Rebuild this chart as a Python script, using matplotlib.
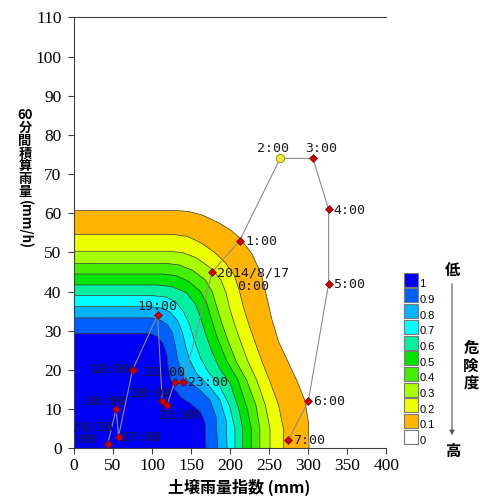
import matplotlib.pyplot as plt
from matplotlib.patches import Rectangle, FancyArrowPatch

plt.rcParams['font.family'] = ['DejaVu Sans', 'Noto Sans CJK JP']

W, H = 481, 496

# 経過: 時刻, 土壌雨量指数 (mm), 60分間積算雨量 (mm/h)
times = ["2014/8/16\n15:00", "16:00", "17:00", "18:00", "19:00", "20:00",
         "21:00", "22:00", "23:00", "2014/8/17\n0:00", "1:00", "2:00",
         "3:00", "4:00", "5:00", "6:00", "7:00"]
soil = [43, 54, 57, 75, 107, 113, 119, 129, 140, 177, 212, 264,
        306, 326, 326, 300, 274]
rain = [1, 10, 3, 20, 34, 12, 11, 17, 17, 45, 53, 74,
        74, 61, 42, 12, 2]
latest = 11  # 2:00 (黄色の丸)

# 危険度の等値線 (y 軸上端 -> x 軸)
cl_01 = [(0, 60.7), (132, 60.7), (148, 60.4), (165, 59.5), (185, 57.6), (200, 55.8),
         (213, 53.6), (228, 49.6), (240, 44.3), (247, 38.5), (253, 33.2), (262, 27.2),
         (274, 22.1), (286, 17.0), (296, 12.0), (300, 6.8), (301, 0)]
cl_02 = [(0, 54.6), (126, 54.6), (145, 54.1), (163, 52.4), (180, 50.0), (194, 47.3),
         (205, 44.3), (212, 40.0), (217, 36.0), (224, 31.5), (232, 27.0), (241, 22.0),
         (251, 17.0), (262, 11.0), (268, 5.0), (268, 0)]
cl_03 = [(0, 50.3), (122, 50.3), (140, 49.9), (157, 48.6), (175, 46.0), (188, 43.0),
         (195, 39.5), (199, 36.0), (205, 32.0), (212, 28.0), (222, 22.5), (234, 17.4),
         (245, 11.0), (251, 5.0), (251, 0)]
cl_04 = [(0, 47.2), (118, 47.2), (135, 46.8), (152, 45.4), (168, 43.0), (177, 40.0),
         (183, 36.0), (190, 31.5), (198, 27.0), (208, 22.0), (221, 17.4), (233, 11.0),
         (238, 5.0), (238, 0)]
cl_05 = [(0, 44.5), (112, 44.5), (130, 44.1), (147, 42.6), (162, 40.0), (170, 37.0),
         (176, 33.0), (183, 28.5), (195, 22.5), (210, 17.4), (222, 10.0), (227, 5.0),
         (227, 0)]
cl_06 = [(0, 41.7), (106, 41.7), (125, 41.3), (144, 39.7), (155, 37.0), (162, 33.5),
         (168, 29.5), (176, 25.0), (186, 20.5), (200, 16.5), (211, 10.0), (216, 5.0),
         (216, 0)]
cl_07 = [(0, 39.0), (100, 39.0), (118, 38.6), (130, 37.4), (140, 35.0), (148, 31.5),
         (155, 27.0), (162, 23.0), (172, 19.5), (186, 16.0), (199, 11.0), (206, 5.0),
         (206, 0)]
cl_08 = [(0, 36.2), (96, 36.2), (112, 35.8), (123, 34.8), (133, 32.5), (139, 29.5),
         (143, 26.0), (148, 22.6), (157, 19.1), (174, 15.7), (187, 12.3), (195, 7.0),
         (196, 0)]
cl_09 = [(0, 33.3), (100, 33.3), (112, 32.6), (120, 31.5), (126, 29.5), (130, 26.0),
         (133, 22.5), (137, 20.0), (145, 17.4), (161, 14.9), (174, 12.3), (182, 8.0),
         (184, 0)]
cl_10 = [(0, 29.3), (98, 29.3), (107, 28.5), (114, 26.8), (119, 24.0), (121, 20.5),
         (124, 17.5), (129, 15.0), (137, 13.0), (149, 11.5), (162, 9.3), (168, 6.5),
         (169, 0)]
contours = [cl_01, cl_02, cl_03, cl_04, cl_05, cl_06, cl_07, cl_08, cl_09, cl_10]

# 凡例 (危険度)
levels = ["1", "0.9", "0.8", "0.7", "0.6", "0.5", "0.4", "0.3", "0.2", "0.1", "0"]
colors = ["#0000F5", "#0060FF", "#00B4FF", "#00FFFF", "#00F0A0", "#00E400",
          "#44EE00", "#A8FF00", "#EEFF00", "#FFB400", "#FFFFFF"]

# ラベル位置 (データ座標)
lab_pos = [(3.5, 3.9), (39.7, 11.9), (60.2, 2.8), (71.7, 20.0), (106.3, 36.2),
           (98.6, 14.0), (134, 8.5), (116.5, 19.3), (146.4, 16.7), (182.7, 43.0),
           (219, 52.9), (254.8, 76.6), (316, 76.6), (331.6, 60.8), (331.6, 41.9),
           (306.4, 11.9), (280.8, 1.9)]
lab_ha = ["center", "center", "left", "right", "center", "center", "center",
          "center", "left", "left", "left", "center", "center", "left", "left",
          "left", "left"]

fig = plt.figure(figsize=(W / 100, H / 100), dpi=100)
ax = fig.add_axes([74 / W, 1 - 448.3 / H, 312.4 / W, 430.9 / H])

# 等値線の塗りつぶし (外側から)
band_colors = colors[:10][::-1]
for pts, col in zip(contours, band_colors):
    xs = [p[0] for p in pts]
    ys = [p[1] for p in pts]
    ax.fill(xs + [0], ys + [0], color=col, lw=0, zorder=1)
    ax.plot(xs, ys, color='#3a3a3a', lw=0.5, zorder=2, solid_joinstyle='round')

# 経過
ax.plot(soil, rain, color='#8c8c8c', lw=0.8, zorder=3)
others = [i for i in range(len(soil)) if i != latest]
ax.scatter([soil[i] for i in others], [rain[i] for i in others], marker='D', s=16,
           c='#D00000', edgecolors='#7a0000', linewidths=0.5, zorder=4)
ax.scatter([soil[latest]], [rain[latest]], marker='o', s=36, c='#F2E640',
           edgecolors='#8a8a00', linewidths=0.6, zorder=4)

for t, (lx, ly), ha in zip(times, lab_pos, lab_ha):
    ax.text(lx, ly, t, ha=ha, va='center', multialignment='center',
            family='DejaVu Sans Mono', fontsize=9.5, linespacing=1.0,
            color='#1a1a1a', zorder=5, clip_on=True)

ax.set_xlim(0, 400)
ax.set_ylim(0, 110)
ax.set_xticks(range(0, 401, 50))
ax.set_yticks(range(0, 111, 10))
ax.tick_params(direction='out', length=4, width=0.8, color='#404040', labelsize=12.5)
ax.tick_params(axis='x', pad=3)
ax.tick_params(axis='y', pad=5)
for lab in ax.get_xticklabels() + ax.get_yticklabels():
    lab.set_family('Liberation Serif')
ax.spines['right'].set_visible(False)
for s in ['left', 'bottom', 'top']:
    ax.spines[s].set_color('#404040')
    ax.spines[s].set_linewidth(0.8)

# 軸ラベル
fig.text(239 / W, 1 - 487 / H, "土壌雨量指数 (mm)", ha='center', va='center',
         fontsize=11.5, weight='bold', family='Noto Sans CJK JP')
fig.text(25 / W, 1 - 115 / H, "60", ha='center', va='center', fontsize=9.5,
         weight='bold', family='Noto Sans CJK JP')
for i, ch in enumerate("分間積算雨量"):
    fig.text(25 / W, 1 - (128 + i * 12.8) / H, ch, ha='center', va='center',
             fontsize=9.5, weight='bold', family='Noto Sans CJK JP')
fig.text(25 / W, 1 - 224 / H, "(mm/h)", ha='center', va='center', rotation=270,
         fontsize=9.5, weight='bold', family='Noto Sans CJK JP')

# 凡例
for i, (lab, col) in enumerate(zip(levels, colors)):
    top = 272.7 + i * 15.7
    fig.add_artist(Rectangle((404 / W, 1 - (top + 14) / H), 14 / W, 14 / H,
                             transform=fig.transFigure, fc=col, ec='#7a7a7a', lw=0.8))
    fig.text(419.5 / W, 1 - (top + 11.5) / H, lab, ha='left', va='center',
             fontsize=8, family='Liberation Sans')

fig.add_artist(FancyArrowPatch((452 / W, 1 - 281 / H), (452 / W, 1 - 438 / H),
                               transform=fig.transFigure, arrowstyle='-|>',
                               mutation_scale=7, color='#555555', lw=0.8))
fig.text(453 / W, 1 - 270 / H, "低", ha='center', va='center', fontsize=11,
         weight='bold', family='Noto Sans CJK JP')
fig.text(453 / W, 1 - 451 / H, "高", ha='center', va='center', fontsize=11,
         weight='bold', family='Noto Sans CJK JP')
fig.text(471 / W, 1 - 366 / H, "危\n険\n度", ha='center', va='center', fontsize=11,
         weight='bold', family='Noto Sans CJK JP', linespacing=1.05)

fig.savefig('out.png', dpi=100)
